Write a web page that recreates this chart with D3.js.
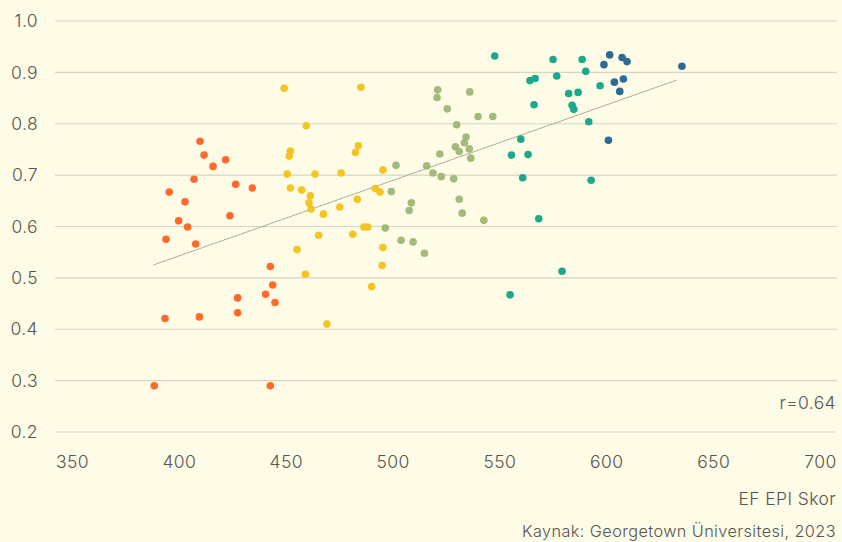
<!DOCTYPE html>
<html>
<head>
<meta charset="utf-8">
<script src="https://cdn.jsdelivr.net/npm/d3@7"></script>
<style>
   html, body { margin:0; padding:0; background:#fefbe6; }
   svg text { font-family: Inter, "Open Sans", sans-serif; font-weight:300; fill:#555; letter-spacing:0.4px; }
</style>
</head>
<body>
<svg id="chart"></svg>
<script>
// EF EPI score vs index value, one array per proficiency band
var veryLow = [
   [409.9,0.766],[411.8,0.739],[421.9,0.730],[416.0,0.717],[407.1,0.692],[426.6,0.682],
   [434.4,0.675],[395.5,0.667],[402.9,0.648],[423.9,0.621],[399.9,0.611],[404.1,0.599],
   [394.0,0.575],[407.9,0.566],[442.8,0.522],[443.9,0.486],[440.6,0.468],[427.5,0.461],
   [445.0,0.452],[393.5,0.421],[409.6,0.424],[427.5,0.432],[388.5,0.290],[442.8,0.290]
];
var low = [
   [449.3,0.869],[485.2,0.871],[459.6,0.796],[452.2,0.747],[451.7,0.737],[484.0,0.757],
   [482.6,0.744],[450.7,0.702],[463.7,0.702],[475.9,0.704],[495.5,0.710],[452.2,0.675],
   [457.5,0.671],[461.5,0.660],[491.9,0.674],[494.1,0.667],[460.9,0.646],[461.8,0.634],
   [483.5,0.653],[475.3,0.638],[467.6,0.624],[486.6,0.599],[488.4,0.599],[465.4,0.583],
   [481.4,0.585],[455.3,0.555],[495.5,0.559],[459.2,0.507],[495.1,0.524],[490.2,0.483],
   [469.3,0.410]
];
var moderate = [
   [501.6,0.719],[499.4,0.668],[508.8,0.646],[507.8,0.631],[496.6,0.597],[504.0,0.573],
   [509.6,0.570],[521.1,0.866],[520.8,0.851],[536.1,0.862],[525.6,0.829],[540.0,0.814],
   [546.9,0.814],[530.0,0.798],[534.4,0.774],[533.6,0.763],[529.4,0.755],[531.2,0.746],
   [535.9,0.751],[536.6,0.733],[522.1,0.741],[516.0,0.718],[518.9,0.704],[522.8,0.697],
   [528.6,0.693],[531.2,0.653],[532.6,0.626],[542.7,0.612],[514.9,0.548]
];
var high = [
   [547.8,0.932],[575.1,0.925],[588.7,0.925],[576.8,0.893],[590.4,0.902],[564.3,0.884],
   [566.7,0.888],[597.1,0.874],[582.4,0.859],[586.8,0.861],[566.2,0.837],[584.0,0.836],
   [584.8,0.828],[591.8,0.804],[560.0,0.770],[555.6,0.739],[563.4,0.740],[560.9,0.695],
   [592.9,0.690],[568.4,0.615],[579.3,0.513],[555.0,0.467]
];
var veryHigh = [
   [601.6,0.934],[607.4,0.929],[609.7,0.921],[598.9,0.915],[635.4,0.912],[608.0,0.887],
   [603.8,0.881],[606.3,0.863],[601.0,0.768]
];
var bandColors = ["#fe6a2c","#f4c522","#a2bb7b","#1aa98c","#2d6b95"];

var xTicks = [350,400,450,500,550,600,650,700];
var yTicks = [0.2,0.3,0.4,0.5,0.6,0.7,0.8,0.9,1.0];
var trendX = [388.0,633.0];
var trendY = [0.525,0.885];
var rLabel = "r=0.64";
var xTitle = "EF EPI Skor";
var source = "Kaynak: Georgetown Üniversitesi, 2023";

var W = 842, H = 542;
var svg = d3.select("#chart").attr("width",W).attr("height",H);

var x = d3.scaleLinear().domain([350,700]).range([72,820]);
var y = d3.scaleLinear().domain([0.2,1.0]).range([432,21]);

// gridlines + y labels
var grid = svg.append("g");
grid.selectAll("line").data(yTicks).enter().append("line")
   .attr("x1",55).attr("x2",837)
   .attr("y1",function(d){return y(d)}).attr("y2",function(d){return y(d)})
   .attr("stroke","#d8d4c3").attr("stroke-width",1.2);
grid.selectAll("text").data(yTicks).enter().append("text")
   .attr("x",38).attr("y",function(d){return y(d)})
   .attr("dy","0.35em").attr("text-anchor","end")
   .style("font-size","17.5px")
   .text(function(d){return d3.format(".1f")(d)});

// x axis labels
var xa = svg.append("g").attr("transform","translate(0,468)")
   .call(d3.axisBottom(x).tickValues(xTicks).tickSize(0).tickPadding(0).tickFormat(d3.format("d")));
xa.select(".domain").remove();
xa.selectAll("text").attr("dy",0).style("font-size","17.5px")
   .style("font-family","Inter, 'Open Sans', sans-serif").attr("fill","#555");

// trend line
svg.append("line")
   .attr("x1",x(trendX[0])).attr("y1",y(trendY[0]))
   .attr("x2",x(trendX[1])).attr("y2",y(trendY[1]))
   .attr("stroke","#a6a493").attr("stroke-width",0.9);

// points
[veryLow,low,moderate,high,veryHigh].forEach(function(band,i){
   svg.append("g").selectAll("circle").data(band).enter().append("circle")
      .attr("cx",function(d){return x(d[0])})
      .attr("cy",function(d){return y(d[1])})
      .attr("r",3.8)
      .attr("fill",bandColors[i]);
});

svg.append("text").attr("x",836).attr("y",409).attr("text-anchor","end")
   .style("font-size","17.5px").text(rLabel);
svg.append("text").attr("x",836).attr("y",505).attr("text-anchor","end")
   .style("font-size","17.5px").text(xTitle);
svg.append("text").attr("x",836).attr("y",537).attr("text-anchor","end")
   .style("font-size","16.3px").text(source);
</script>
</body>
</html>
